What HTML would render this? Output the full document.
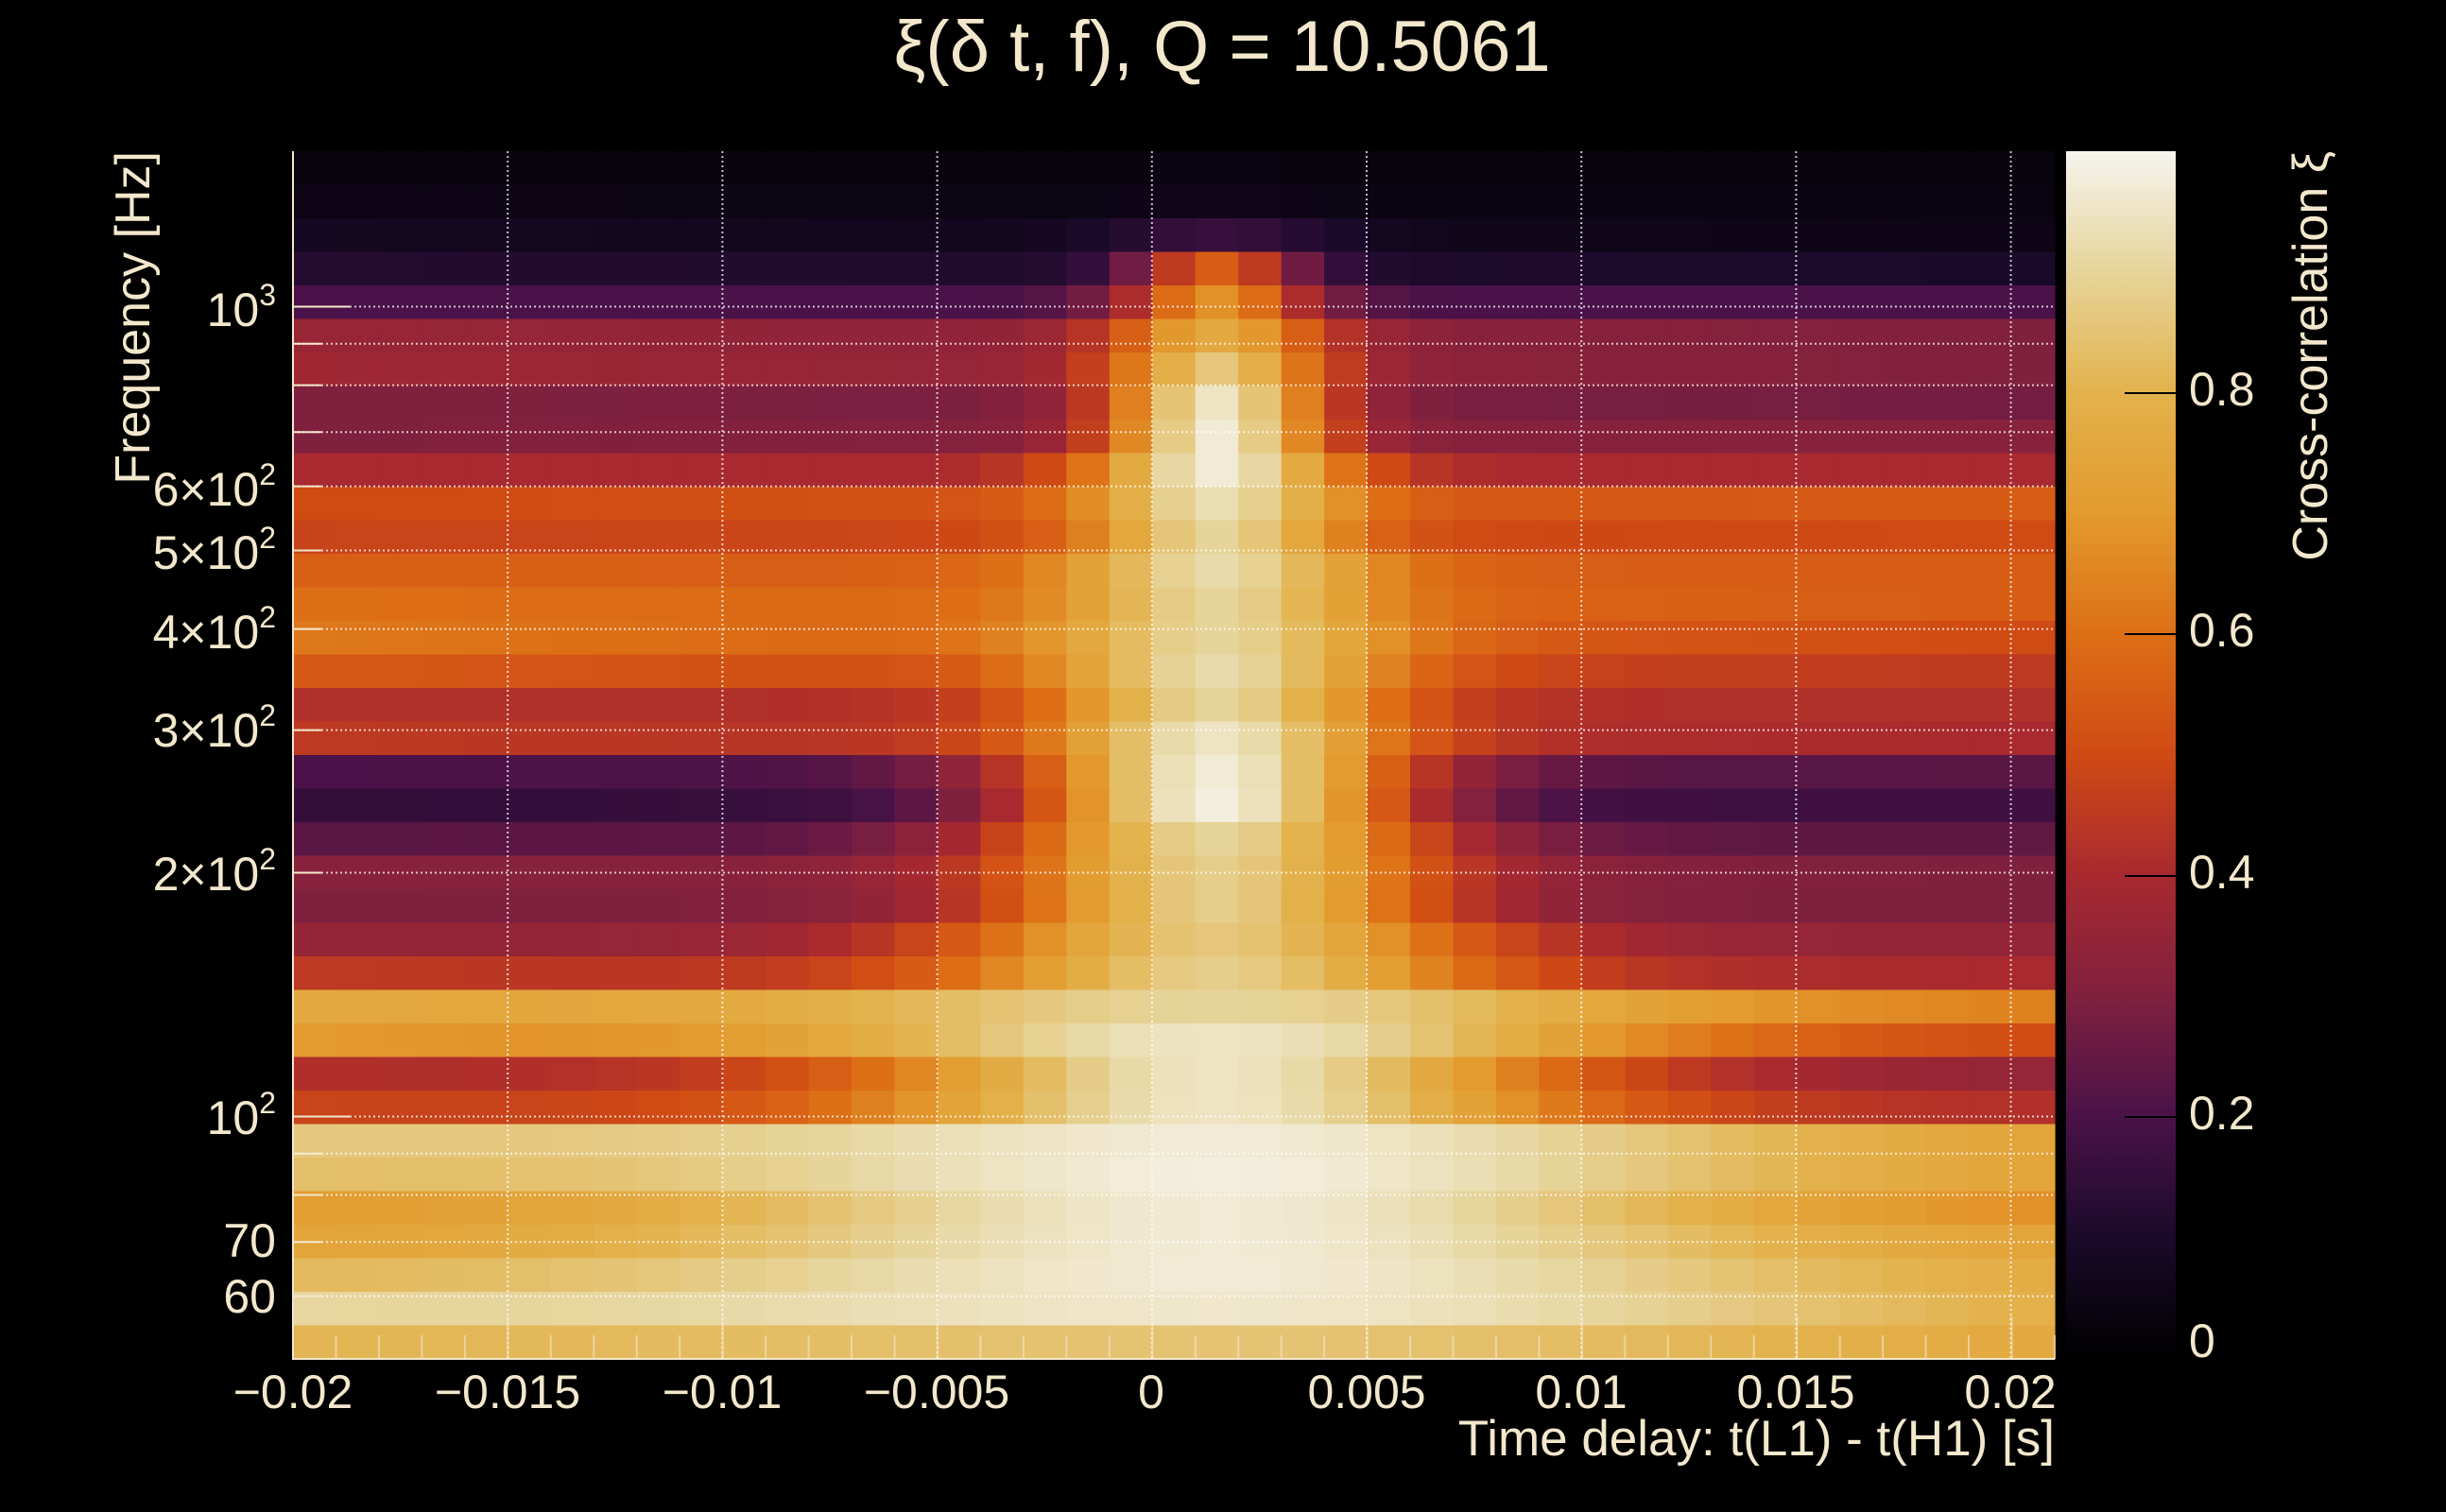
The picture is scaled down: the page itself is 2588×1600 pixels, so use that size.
<!DOCTYPE html>
<html><head><meta charset="utf-8"><style>
html,body{margin:0;padding:0;background:#000;}
svg{display:block;}
text{font-family:"Liberation Sans","DejaVu Sans",sans-serif;fill:#f3e8cc;}
</style></head><body>
<svg id="s" width="2588" height="1600" viewBox="0 0 2588 1600" xmlns="http://www.w3.org/2000/svg">
<defs>
<linearGradient id="cb" x1="0" y1="1" x2="0" y2="0">
<stop offset="0" stop-color="#000000"/>
<stop offset="0.1" stop-color="#1a0a2a"/>
<stop offset="0.2" stop-color="#4a1248"/>
<stop offset="0.3" stop-color="#80203f"/>
<stop offset="0.4" stop-color="#a8292f"/>
<stop offset="0.5" stop-color="#d04a14"/>
<stop offset="0.6" stop-color="#dd6f16"/>
<stop offset="0.7" stop-color="#e39a2e"/>
<stop offset="0.8" stop-color="#e3b24c"/>
<stop offset="0.9" stop-color="#e6d49a"/>
<stop offset="1" stop-color="#f6f4ee"/>
</linearGradient>
</defs>
<rect width="2588" height="1600" fill="#000"/>
<g id="cells"></g>
<g id="grid"></g>
<rect x="2186" y="160" width="116" height="1278" fill="url(#cb)"/>
<g stroke="#000" stroke-width="2">
<line x1="2248" y1="1182" x2="2302" y2="1182"/>
<line x1="2248" y1="927" x2="2302" y2="927"/>
<line x1="2248" y1="671" x2="2302" y2="671"/>
<line x1="2248" y1="416" x2="2302" y2="416"/>
</g>
<g font-size="50">
<text x="2316" y="1436">0</text>
<text x="2316" y="1182" dominant-baseline="middle">0.2</text>
<text x="2316" y="927" dominant-baseline="middle">0.4</text>
<text x="2316" y="671" dominant-baseline="middle">0.6</text>
<text x="2316" y="416" dominant-baseline="middle">0.8</text>
</g>
<text transform="translate(2462,160) rotate(-90)" text-anchor="end" font-size="52">Cross-correlation ξ</text>
<text transform="translate(158,160) rotate(-90)" text-anchor="end" font-size="52">Frequency [Hz]</text>
<text x="1293" y="75" text-anchor="middle" font-size="76">ξ(δ t, f), Q = 10.5061</text>
<g font-size="50" text-anchor="middle">
<text x="310" y="1490">−0.02</text>
<text x="537" y="1490">−0.015</text>
<text x="764" y="1490">−0.01</text>
<text x="991" y="1490">−0.005</text>
<text x="1218" y="1490">0</text>
<text x="1446" y="1490">0.005</text>
<text x="1673" y="1490">0.01</text>
<text x="1900" y="1490">0.015</text>
<text x="2127" y="1490">0.02</text>
</g>
<text x="2174" y="1540" text-anchor="end" font-size="53">Time delay: t(L1) - t(H1) [s]</text>
<g font-size="50" text-anchor="end">
<text x="292" y="345">10<tspan font-size="32" dy="-22">3</tspan></text>
<text x="292" y="535">6×10<tspan font-size="32" dy="-22">2</tspan></text>
<text x="292" y="602">5×10<tspan font-size="32" dy="-22">2</tspan></text>
<text x="292" y="686">4×10<tspan font-size="32" dy="-22">2</tspan></text>
<text x="292" y="790">3×10<tspan font-size="32" dy="-22">2</tspan></text>
<text x="292" y="942">2×10<tspan font-size="32" dy="-22">2</tspan></text>
<text x="292" y="1200">10<tspan font-size="32" dy="-22">2</tspan></text>
<text x="292" y="1330">70</text>
<text x="292" y="1389">60</text>
</g>
</svg>
<script>
(function(){
var NS="http://www.w3.org/2000/svg";
var stops=[[0,[0,0,0]],[0.1,[26,10,42]],[0.2,[74,18,72]],[0.3,[128,32,63]],[0.4,[168,41,47]],[0.5,[208,74,20]],[0.6,[221,111,22]],[0.7,[227,154,46]],[0.8,[227,178,76]],[0.9,[230,212,154]],[1,[246,244,238]]];
function cmap(v){v=Math.max(0,Math.min(1,v));for(var i=1;i<stops.length;i++){if(v<=stops[i][0]){var a=stops[i-1],b=stops[i];var f=(v-a[0])/(b[0]-a[0]);var c=a[1].map(function(x,k){return Math.round(x+(b[1][k]-x)*f);});return "rgb("+c.join(",")+")";}}return "rgb(246,244,238)";}
var rows=[[0.03,0.04,0.03,0.002],[0.05,0.06,0.04,0.002],[0.08,0.16,0.05,0.003],[0.12,0.55,0.1,0.002],[0.2,0.68,0.2,0.0022],[0.36,0.76,0.3,0.0025],[0.38,0.86,0.3,0.0025],[0.3,0.95,0.28,0.0025],[0.3,0.97,0.32,0.0025],[0.4,0.97,0.4,0.003],[0.5,0.93,0.55,0.003],[0.48,0.9,0.5,0.003],[0.56,0.92,0.55,0.0035],[0.6,0.9,0.55,0.0035],[0.62,0.9,0.5,0.004],[0.54,0.92,0.45,0.004],[0.42,0.9,0.42,0.004],[0.45,0.95,0.4,0.004],[0.2,0.97,0.23,0.0045],[0.15,0.98,0.18,0.0045],[0.23,0.9,0.24,0.005],[0.32,0.88,0.3,0.005],[0.3,0.88,0.3,0.005],[0.35,0.86,0.35,0.006],[0.45,0.88,0.4,0.006],[0.76,0.9,0.64,0.009],[0.7,0.95,0.5,0.009],[0.42,0.95,0.35,0.008],[0.48,0.95,0.42,0.008],[0.86,0.97,0.72,0.012],[0.83,0.98,0.72,0.012],[0.7,0.97,0.65,0.012],[0.73,0.97,0.72,0.012],[0.81,0.97,0.75,0.013],[0.9,0.96,0.76,0.014],[0.79,0.85,0.7,0.02]];
var x0=310,x1=2174,y0=160,y1=1438,nc=41,nr=36,cw=(x1-x0)/nc,rh=(y1-y0)/nr,t0=0.0015;
var g=document.getElementById("cells");
for(var r=0;r<nr;r++){var R=rows[r];for(var c=0;c<nc;c++){var t=-0.0195+c*0.001;var fr=c/(nc-1);var base=R[0]+(R[2]-R[0])*fr;var e=Math.exp(-Math.pow((t-t0)/R[3],2));var v=base+(R[1]-base)*e;
var el=document.createElementNS(NS,"rect");el.setAttribute("x",(x0+c*cw).toFixed(1));el.setAttribute("y",(y0+r*rh).toFixed(1));el.setAttribute("width",(cw+0.6).toFixed(1));el.setAttribute("height",(rh+0.6).toFixed(1));el.setAttribute("fill",cmap(v));g.appendChild(el);}}
var gg=document.getElementById("grid");
function line(a,b,c,d,w){var l=document.createElementNS(NS,"line");l.setAttribute("x1",a);l.setAttribute("y1",b);l.setAttribute("x2",c);l.setAttribute("y2",d);l.setAttribute("stroke","#ffffff");l.setAttribute("stroke-opacity","0.75");l.setAttribute("stroke-width",w||2);l.setAttribute("stroke-dasharray","2 3");gg.appendChild(l);}
for(var i=0;i<9;i++){var x=310+i*227.2;line(x,y0,x,y1);}
var fs=[60,70,80,90,100,200,300,400,500,600,700,800,900,1000];
var ly0=Math.log10(1556),ly1=Math.log10(50.2);
fs.forEach(function(f){var y=y0+(ly0-Math.log10(f))/(ly0-ly1)*(y1-y0);line(x0,y,x1,y);var t=document.createElementNS(NS,"line");t.setAttribute("x1",x0);t.setAttribute("x2",x0+((f==100||f==1000)?60:30));t.setAttribute("y1",y);t.setAttribute("y2",y);t.setAttribute("stroke","#f3e8cc");t.setAttribute("stroke-width",2);gg.appendChild(t);});
for(var k=0;k<=41;k++){var x=x0+k*cw;var t=document.createElementNS(NS,"line");t.setAttribute("x1",x);t.setAttribute("x2",x);t.setAttribute("y1",y1);t.setAttribute("y2",y1-(k%5==0?45:25));t.setAttribute("stroke","#f3e8cc");t.setAttribute("stroke-opacity","0.6");t.setAttribute("stroke-width",2);gg.appendChild(t);}
var ax=document.createElementNS(NS,"path");ax.setAttribute("d","M"+x0+" "+y0+" L"+x0+" "+y1+" L"+x1+" "+y1);ax.setAttribute("stroke","#f3e8cc");ax.setAttribute("stroke-width",2);ax.setAttribute("fill","none");gg.appendChild(ax);
})();
</script>
</body></html>
